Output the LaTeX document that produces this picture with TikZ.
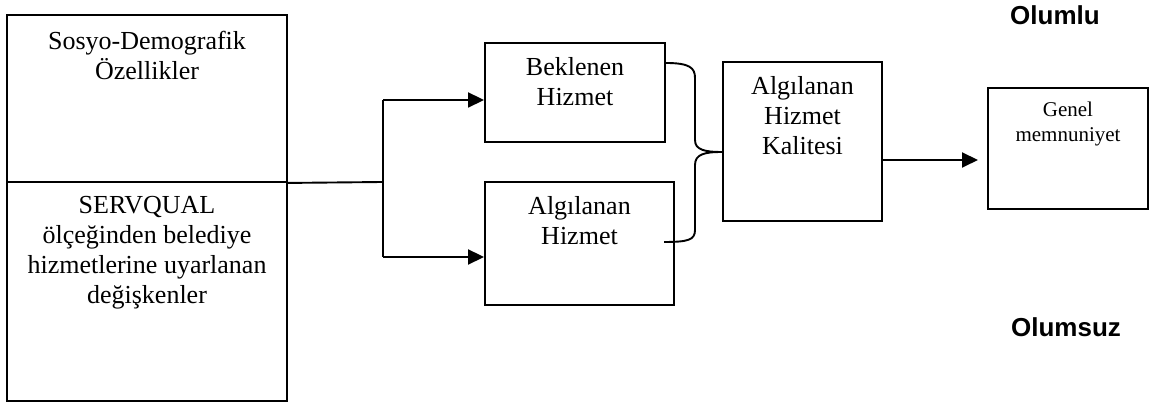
\documentclass[tikz,border=0pt]{standalone}
\usepackage{fontspec}
\setmainfont{Liberation Serif}
\setsansfont{Liberation Sans}
\usetikzlibrary{arrows.meta,positioning}
\tikzset{
  box/.style={draw, line width=1.9pt, inner sep=0pt},
  lbl/.style={align=center, inner sep=0pt, font=\fontsize{26}{30}\selectfont},
  sml/.style={align=center, inner sep=0pt, font=\fontsize{21}{25}\selectfont},
  tag/.style={inner sep=0pt, font=\sffamily\bfseries\fontsize{26}{30}\selectfont},
  link/.style={line width=1.9pt},
  arr/.style={link, -{Triangle[length=16pt,width=15pt]}},
}
\begin{document}
\begin{tikzpicture}[x=1pt,y=1pt]
  \useasboundingbox (0,0) rectangle (1149,403);
  % left box, split in two
  \node[box, minimum width=280pt, minimum height=167pt] (sdem) at (147,304.5) {};
  \node[box, minimum width=280pt, minimum height=219pt] (serv) at (147,111.5) {};
  \node[lbl, below=17pt of sdem.north] (sdemtxt) {Sosyo-Demografik\\Özellikler};
  \node[lbl, below=15.5pt of serv.north] (servtxt) {SERVQUAL\\ölçeğinden belediye\\hizmetlerine uyarlanan\\değişkenler};
  % expected / perceived service
  \node[box, minimum width=180pt, minimum height=99pt] (bek) at (575,310.5) {};
  \node[lbl, below=15pt of bek.north] (bektxt) {Beklenen\\Hizmet};
  \node[box, minimum width=189pt, minimum height=123pt] (alg) at (579.5,159.5) {};
  \node[lbl, below=15pt of alg.north] (algtxt) {Algılanan\\Hizmet};
  % perceived service quality
  \node[box, minimum width=159pt, minimum height=159pt] (ahk) at (802.5,261.5) {};
  \node[lbl, below=15pt of ahk.north] (ahktxt) {Algılanan\\Hizmet\\Kalitesi};
  % overall satisfaction
  \node[box, minimum width=160pt, minimum height=121pt] (gen) at (1068,254.5) {};
  \node[sml, below=15pt of gen.north] (gentxt) {Genel\\memnuniyet};
  % side tags
  \node[tag, anchor=north] (olumlu) at (1055,398) {Olumlu};
  \node[tag, anchor=north] (olumsuz) at (1066,86) {Olumsuz};
  % split line and arrows
  \coordinate (split) at (383,221);
  \coordinate (up) at (383,303);
  \coordinate (dn) at (383,146);
  \draw[link] (sdem.south east) -- (split);
  \draw[link] (up) -- (dn);
  \draw[arr] (up) -- (up -| bek.west);
  \draw[arr] (dn) -- (dn -| alg.west);
  % brace into quality box
  \coordinate (bekout) at (bek.east |- 0,340);
  \coordinate (ahkin) at (ahk.west |- 0,251);
  \coordinate (algout) at (664,161);
  \draw[link] (bekout) .. controls (690,340) and (695,335) .. (695,325) -- (695,263)
    .. controls (695,253) and (705,251) .. (ahkin);
  \draw[link] (ahkin) .. controls (705,251) and (695,249) .. (695,238) -- (695,173)
    .. controls (695,163) and (688,161) .. (algout);
  % to satisfaction
  \coordinate (ahkout) at (ahk.east |- 0,243);
  \coordinate (genin) at (978,243);
  \draw[arr] (ahkout) -- (genin);
\end{tikzpicture}
\end{document}
